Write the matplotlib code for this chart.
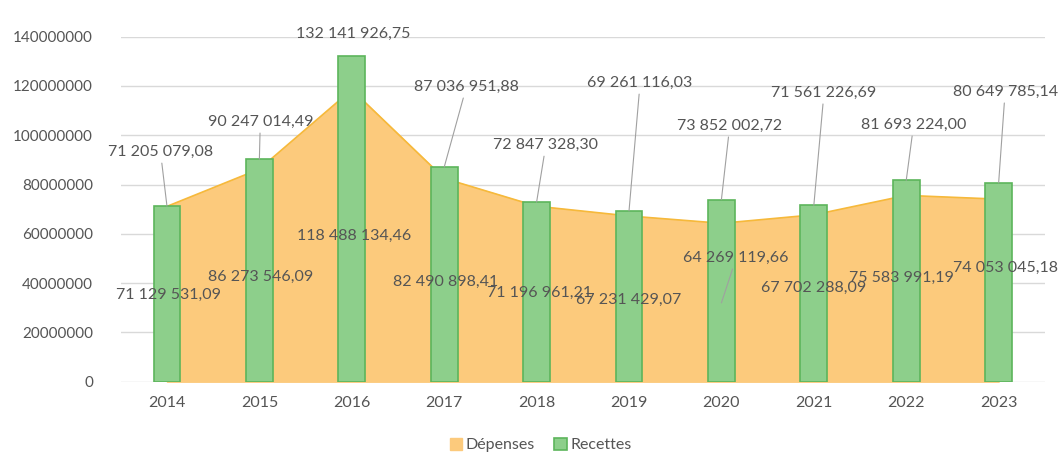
import numpy as np
import matplotlib
matplotlib.use('Agg')
import matplotlib.pyplot as plt
from matplotlib.ticker import FuncFormatter

annees = ['2014', '2015', '2016', '2017', '2018', '2019', '2020', '2021', '2022', '2023']
depenses = [71129531.09, 86273546.09, 118488134.46, 82490898.41, 71196961.21,
            67231429.07, 64269119.66, 67702288.09, 75583991.19, 74053045.18]
recettes = [71205079.08, 90247014.49, 132141926.75, 87036951.88, 72847328.30,
            69261116.03, 73852002.72, 71561226.69, 81693224.00, 80649785.14]

# position des étiquettes (décalage en x, hauteur en y)
rec_dx = [-0.07, 0.01, 0.02, 0.24, 0.10, 0.12, 0.09, 0.11, 0.08, 0.07]
rec_y = [93.2e6, 105.4e6, 141.1e6, 119.6e6, 96.0e6, 121.2e6, 103.8e6, 117.2e6, 104.2e6, 117.6e6]
dep_dx = [0.02, 0.01, 0.02, 0.02, 0.03, 0.0, 0.16, 0.0, -0.05, 0.07]
dep_y = [35.2e6, 42.5e6, 59.1e6, 40.5e6, 36.0e6, 33.2e6, 50.2e6, 38.0e6, 42.1e6, 46.1e6]

orange = '#fcca7c'
orange_bord = '#f6b93b'
vert = '#8dcf8b'
vert_bord = '#5cb55b'
gris_txt = '#555555'
police = 'Lato'


def fr(v):
    return f'{v:,.2f}'.replace(',', ' ').replace('.', ',')


fig = plt.figure(figsize=(10.64, 4.73), dpi=100)
ax = fig.add_axes([0.1135, 0.193, 0.8685, 0.7296])

x = np.arange(len(annees))
ax.fill_between(x, depenses, color=orange, zorder=2, label='Dépenses')
ax.plot(x, depenses, color=orange_bord, linewidth=1.2, zorder=2)
ax.bar(x, recettes, width=0.29, color=vert, edgecolor=vert_bord, linewidth=1.2,
       zorder=3, label='Recettes')

ax.set_xlim(-0.5, len(annees) - 0.5)
ax.set_ylim(0, 140000000)
ax.set_yticks(np.arange(0, 140000001, 20000000))
ax.yaxis.set_major_formatter(FuncFormatter(lambda v, _: f'{int(v)}'))
ax.set_xticks(x)
ax.set_xticklabels(annees)
ax.grid(axis='y', color='#d9d9d9', linewidth=1, zorder=0)
ax.set_axisbelow(True)
for s in ax.spines.values():
    s.set_visible(False)
ax.tick_params(axis='both', length=0, labelsize=11.5, labelcolor=gris_txt)
ax.tick_params(axis='y', pad=20, labelsize=11)
ax.tick_params(axis='x', pad=10)
for lab in ax.get_xticklabels() + ax.get_yticklabels():
    lab.set_fontfamily(police)

# étiquettes des recettes
for i, v in enumerate(recettes):
    fleche = dict(arrowstyle='-', color='#a0a0a0', lw=0.8, shrinkA=1, shrinkB=0) if rec_y[i] - v > 12e6 else None
    ax.annotate(fr(v), xy=(i, v), xytext=(i + rec_dx[i], rec_y[i]), ha='center', va='center',
                fontsize=11.5, color=gris_txt, fontfamily=police, arrowprops=fleche,
                zorder=5, annotation_clip=False)

# étiquettes des dépenses
for i, v in enumerate(depenses):
    fleche = None
    cible = (i, v)
    if i == 6:
        cible = (i, 32e6)
        fleche = dict(arrowstyle='-', color='#a0a0a0', lw=0.8, shrinkA=1, shrinkB=0)
    ax.annotate(fr(v), xy=cible, xytext=(i + dep_dx[i], dep_y[i]), ha='center', va='center',
                fontsize=11.5, color=gris_txt, fontfamily=police, arrowprops=fleche,
                zorder=5, annotation_clip=False)

leg = fig.legend(loc='center', bbox_to_anchor=(0.508, 0.059), ncol=2, frameon=False,
                 handlelength=0.8, handleheight=0.8, handletextpad=0.2, columnspacing=1.2,
                 prop={'family': police, 'size': 11.5})
for t in leg.get_texts():
    t.set_color(gris_txt)

fig.savefig('out.png', dpi=100)
